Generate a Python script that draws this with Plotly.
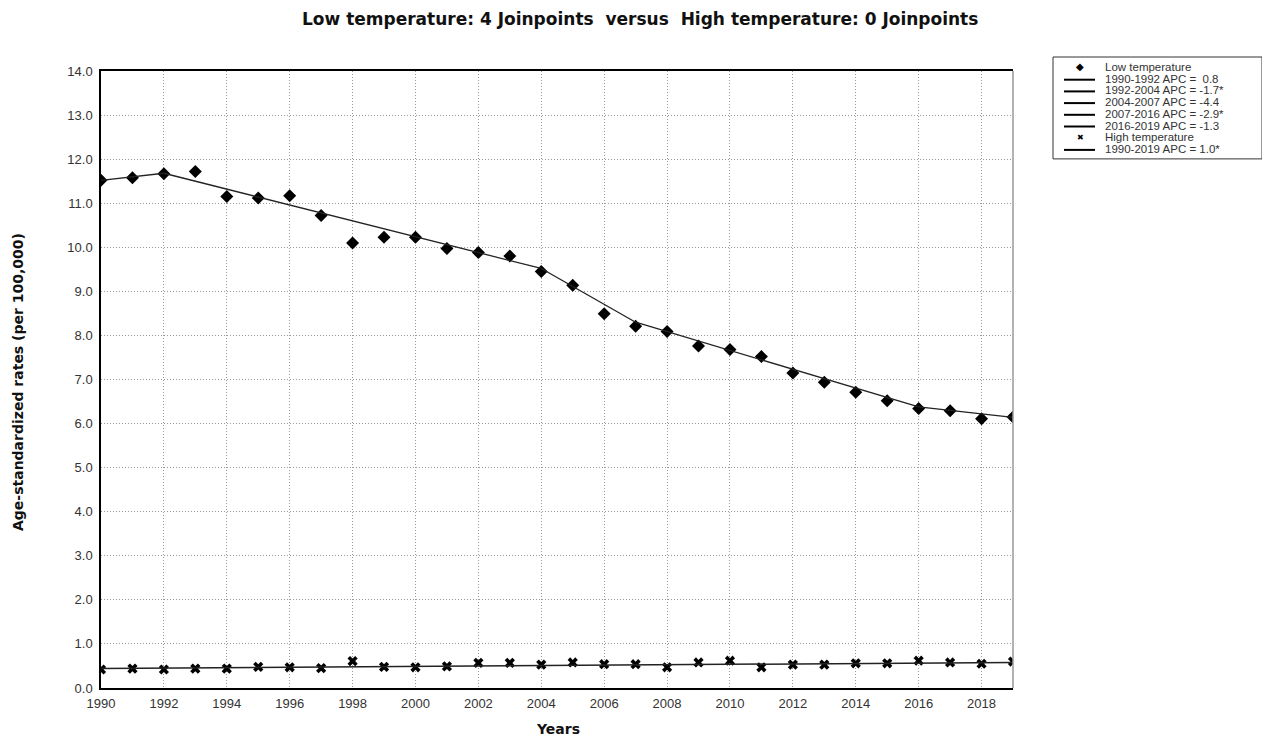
import plotly.graph_objects as go

# ---------------- data ----------------
years = list(range(1990, 2020))
low_obs = [11.52, 11.58, 11.67, 11.72, 11.15, 11.12, 11.17, 10.72, 10.10, 10.23,
           10.23, 9.97, 9.88, 9.80, 9.45, 9.14, 8.49, 8.21, 8.09, 7.76,
           7.68, 7.52, 7.15, 6.94, 6.71, 6.52, 6.34, 6.29, 6.11, 6.15]
high_obs = [0.42, 0.44, 0.42, 0.44, 0.44, 0.48, 0.47, 0.45, 0.61, 0.48,
            0.47, 0.49, 0.57, 0.57, 0.53, 0.58, 0.54, 0.54, 0.47, 0.58,
            0.62, 0.47, 0.53, 0.53, 0.56, 0.56, 0.62, 0.58, 0.55, 0.60]

low_joinpoint_years = [1990, 1992, 2004, 2007, 2016, 2019]
low_fit_values = [11.52, 11.68, 9.52, 8.30, 6.38, 6.14]
high_joinpoint_years = [1990, 2019]
high_fit_values = [0.44, 0.58]

legend_labels = ["Low temperature",
                 "1990-1992 APC =  0.8",
                 "1992-2004 APC = -1.7*",
                 "2004-2007 APC = -4.4",
                 "2007-2016 APC = -2.9*",
                 "2016-2019 APC = -1.3",
                 "High temperature",
                 "1990-2019 APC = 1.0*"]
legend_kinds = ["diamond", "line", "line", "line", "line", "line", "x", "line"]

title_text = "Low temperature: 4 Joinpoints  versus  High temperature: 0 Joinpoints"
y_title = "Age-standardized rates (per 100,000)"
x_title = "Years"

# ---------------- layout geometry ----------------
# the page body adds an 8px margin around the figure; compensate for it
OFF = 8
PAGE_W, PAGE_H = 1270, 738
W, H = PAGE_W - OFF, PAGE_H - OFF
# plot area in page pixels
P_LEFT, P_RIGHT, P_TOP, P_BOTTOM = 101, 1013, 71, 688
L = P_LEFT - OFF
R = W - (P_RIGHT - OFF)
T = P_TOP - OFF
B = H - (P_BOTTOM - OFF)
PW, PH = P_RIGHT - P_LEFT, P_BOTTOM - P_TOP


def px(x):
    return (x - P_LEFT) / PW


def py(y):
    return 1 - (y - P_TOP) / PH


fig = go.Figure()

# observed points
fig.add_trace(go.Scatter(x=years, y=low_obs, mode="markers",
                         marker=dict(symbol="diamond", size=10, color="black"),
                         showlegend=False))
fig.add_trace(go.Scatter(x=years, y=high_obs, mode="markers",
                         marker=dict(symbol="x", size=9, color="black"),
                         showlegend=False))

# fitted segments
for i in range(len(low_joinpoint_years) - 1):
    fig.add_trace(go.Scatter(x=low_joinpoint_years[i:i + 2], y=low_fit_values[i:i + 2],
                             mode="lines", line=dict(color="#222", width=1.3),
                             showlegend=False))
fig.add_trace(go.Scatter(x=high_joinpoint_years, y=high_fit_values, mode="lines",
                         line=dict(color="#222", width=1.5), showlegend=False))

shapes = []
annotations = []

# right border (grey)
shapes.append(dict(type="line", xref="paper", yref="paper", x0=1, x1=1, y0=0, y1=1,
                   line=dict(color="#999", width=1.5)))

# manual legend
box_x0, box_x1, box_y0 = 1053, 1262, 57
row0, row_gap = 67, 11.7
box_y1 = row0 + row_gap * (len(legend_labels) - 1) + 10
shapes.append(dict(type="rect", xref="paper", yref="paper",
                   x0=px(box_x0), x1=px(box_x1), y0=py(box_y0), y1=py(box_y1),
                   line=dict(color="#333", width=1), fillcolor="white", layer="below"))
for i, (lab, kind) in enumerate(zip(legend_labels, legend_kinds)):
    yy = row0 + i * row_gap
    if kind == "line":
        shapes.append(dict(type="line", xref="paper", yref="paper",
                           x0=px(1064), x1=px(1095), y0=py(yy + 1), y1=py(yy + 1),
                           line=dict(color="black", width=2)))
    else:
        sym = "\u25c6" if kind == "diamond" else "\u2716"
        annotations.append(dict(xref="paper", yref="paper", x=px(1080), y=py(yy - 1),
                                text=sym, showarrow=False, xanchor="center", yanchor="middle",
                                font=dict(size=10 if kind == "diamond" else 8, color="black")))
    annotations.append(dict(xref="paper", yref="paper", x=px(1103), y=py(yy),
                            text=lab.replace("  ", "\u00a0\u00a0"), showarrow=False,
                            xanchor="left", yanchor="middle",
                            font=dict(family="Liberation Sans, Arial", size=11.5, color="#333")))

# axis titles
annotations.append(dict(xref="paper", yref="paper", x=px(18), y=py(382), text="<b>" + y_title + "</b>",
                        textangle=-90, showarrow=False, xanchor="center", yanchor="middle",
                        font=dict(family="DejaVu Sans", size=14, color="#111")))
annotations.append(dict(xref="paper", yref="paper", x=px(558), y=py(729), text="<b>" + x_title + "</b>",
                        showarrow=False, xanchor="center", yanchor="middle",
                        font=dict(family="DejaVu Sans", size=14, color="#111")))
# title
annotations.append(dict(xref="paper", yref="paper", x=px(640), y=py(19),
                        text="<b>" + title_text.replace("  ", "\u00a0\u00a0") + "</b>",
                        showarrow=False, xanchor="center", yanchor="middle",
                        font=dict(family="DejaVu Sans", size=17, color="#111")))

fig.update_layout(
    width=W, height=H,
    margin=dict(l=L, r=R, t=T, b=B, autoexpand=False),
    paper_bgcolor="white", plot_bgcolor="white",
    shapes=shapes, annotations=annotations,
    showlegend=False,
)
fig.update_xaxes(range=[1990, 2019], tick0=1990, dtick=2, showgrid=True,
                 gridcolor="#999", griddash="1px,2px", gridwidth=1,
                 showline=True, linecolor="black", linewidth=1.5, mirror=True,
                 ticks="", ticklabelstandoff=3,
                 tickfont=dict(family="Liberation Sans, Arial", size=13, color="#333"),
                 zeroline=False)
fig.update_yaxes(range=[0, 14], tick0=0, dtick=1, tickformat=".1f", showgrid=True,
                 gridcolor="#999", griddash="1px,2px", gridwidth=1,
                 showline=True, linecolor="black", linewidth=1.5,
                 ticks="", ticklabelstandoff=4,
                 tickfont=dict(family="Liberation Sans, Arial", size=13, color="#333"),
                 zeroline=False)

fig.write_html("out.html")
